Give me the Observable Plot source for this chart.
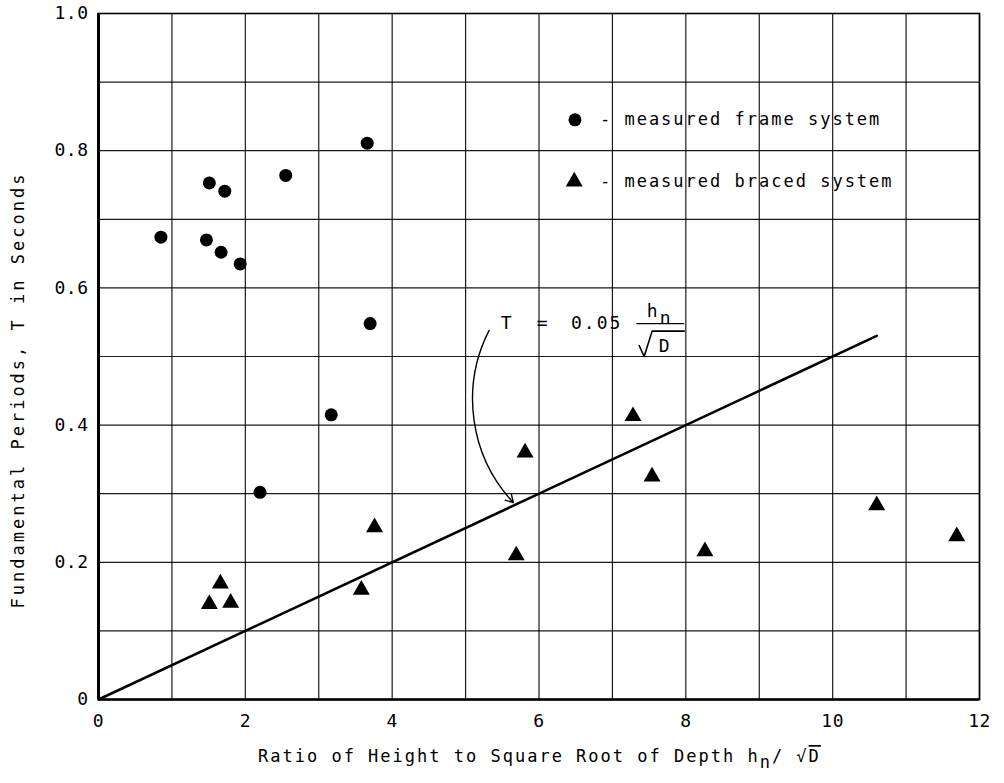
<!DOCTYPE html>
<html>
<head>
<meta charset="utf-8">
<script src="https://cdn.jsdelivr.net/npm/d3@7"></script>
<script src="https://cdn.jsdelivr.net/npm/@observablehq/plot@0.6"></script>
<style>
  html, body { margin: 0; padding: 0; background: #fff; }
  #chart { position: relative; width: 1004px; height: 783px; }
  svg g[aria-label="text"] { letter-spacing: 2px; }
</style>
</head>
<body>
<div id="chart"></div>
<script>
// ---- data ----
const frameRatio  = [0.85, 1.47, 1.51, 1.72, 1.67, 1.93, 2.55, 3.66, 3.70, 3.17, 2.20];
const framePeriod = [0.674, 0.670, 0.753, 0.741, 0.652, 0.635, 0.764, 0.811, 0.548, 0.415, 0.302];

const bracedRatio  = [1.51, 1.66, 1.80, 3.58, 3.76, 5.69, 5.81, 7.28, 7.54, 8.26, 10.60, 11.69];
const bracedPeriod = [0.139, 0.169, 0.141, 0.160, 0.251, 0.210, 0.360, 0.413, 0.325, 0.216, 0.283, 0.238];

const fitRatio  = [0, 10.6];
const fitPeriod = [0, 0.53];

const xTickValues = [0, 2, 4, 6, 8, 10, 12];
const yTickValues = [0, 0.2, 0.4, 0.6, 0.8, 1.0];
const xGridValues = [0, 1, 2, 3, 4, 5, 6, 7, 8, 9, 10, 11, 12];
const yGridValues = [0, 0.1, 0.2, 0.3, 0.4, 0.5, 0.6, 0.7, 0.8, 0.9, 1.0];

const legendLabels = ["- measured frame system", "- measured braced system"];
const xTitle = "Ratio of Height to Square Root of Depth h";
const yTitle = "Fundamental Periods, T in Seconds";

// ---- build tables ----
const frame  = frameRatio.map((x, i) => ({x, y: framePeriod[i]}));
const braced = bracedRatio.map((x, i) => ({x, y: bracedPeriod[i]}));
const fit    = fitRatio.map((x, i) => ({x, y: fitPeriod[i]}));

const FONT = "DejaVu Sans Mono";

const plot = Plot.plot({
  width: 1004,
  height: 783,
  marginLeft: 98,
  marginRight: 25,
  marginTop: 13,
  marginBottom: 84,
  style: {fontFamily: FONT, fontSize: "18px", color: "#000", background: "#fff", letterSpacing: "0.5px"},
  x: {domain: [0, 12], ticks: xTickValues, tickSize: 0, tickPadding: 15, label: null, tickFormat: d => String(d)},
  y: {domain: [0, 1], ticks: yTickValues, tickSize: 0, tickPadding: 10, label: null,
      tickFormat: d => d === 0 ? "0" : d.toFixed(1)},
  marks: [
    Plot.gridX(xGridValues, {stroke: "#000", strokeOpacity: 0.9, strokeWidth: 1.2}),
    Plot.gridY(yGridValues, {stroke: "#000", strokeOpacity: 0.9, strokeWidth: 1.2}),
    Plot.frame({stroke: "#000", strokeWidth: 1.6}),
    Plot.ruleX([0], {stroke: "#000", strokeWidth: 3}),
    Plot.ruleY([0], {stroke: "#000", strokeWidth: 2.6}),
    Plot.line(fit, {x: "x", y: "y", stroke: "#000", strokeWidth: 2.6}),
    Plot.dot(frame, {x: "x", y: "y", r: 6.5, symbol: "circle", fill: "#000", stroke: null}),
    Plot.dot(braced, {x: "x", y: "y", r: 6.3, symbol: "triangle", fill: "#000", stroke: null}),
    // legend
    Plot.dot([{x: 6.49, y: 0.845}], {x: "x", y: "y", r: 6.5, symbol: "circle", fill: "#000", stroke: null}),
    Plot.dot([{x: 6.48, y: 0.755}], {x: "x", y: "y", r: 6.3, symbol: "triangle", fill: "#000", stroke: null}),
    Plot.text([{x: 6.83, y: 0.845, t: legendLabels[0]}, {x: 6.83, y: 0.755, t: legendLabels[1]}],
      {x: "x", y: "y", text: "t", textAnchor: "start", fontSize: 17, fill: "#000"}),
    // formula annotation T = 0.05 h_n / sqrt(D)
    Plot.text([{x: 5.566, y: 0.549, t: "T"}, {x: 6.057, y: 0.549, t: "="}, {x: 6.786, y: 0.549, t: "0.05"},
               {x: 7.556, y: 0.566, t: "h"}, {x: 7.733, y: 0.556, t: "n"}, {x: 7.72, y: 0.515, t: "D"}],
      {x: "x", y: "y", text: "t", textAnchor: "middle", fontSize: 18, fill: "#000"}),
    Plot.link([{x1: 7.325, x2: 7.979, y: 0.548}], {x1: "x1", x2: "x2", y1: "y", y2: "y", stroke: "#000", strokeWidth: 1.2}),
    Plot.line([{x: 7.364, y: 0.516}, {x: 7.432, y: 0.500}, {x: 7.541, y: 0.537}, {x: 7.979, y: 0.537}],
      {x: "x", y: "y", stroke: "#000", strokeWidth: 1.6}),
    Plot.arrow([{x1: 5.32, y1: 0.538, x2: 5.65, y2: 0.287}],
      {x1: "x1", y1: "y1", x2: "x2", y2: "y2", bend: -35, stroke: "#000", strokeWidth: 1.4, headLength: 9})
  ]
});

document.getElementById("chart").appendChild(plot);

// axis titles
const svg = d3.select(plot);
const xt = svg.append("text")
  .attr("x", 258).attr("y", 762)
  .attr("text-anchor", "start")
  .attr("font-family", FONT).attr("font-size", 17).attr("letter-spacing", "2px")
  .attr("fill", "#000");
xt.append("tspan").text(xTitle);
xt.append("tspan").attr("dy", 6).text("n");
xt.append("tspan").attr("dy", -6).text("/ √");
xt.append("tspan").attr("text-decoration", "overline").text("D");

svg.append("text")
  .attr("transform", "translate(18,390) rotate(-90)")
  .attr("text-anchor", "middle").attr("dominant-baseline", "central")
  .attr("font-family", FONT).attr("font-size", 17).attr("letter-spacing", "3px")
  .attr("fill", "#000")
  .text(yTitle);
</script>
</body>
</html>
